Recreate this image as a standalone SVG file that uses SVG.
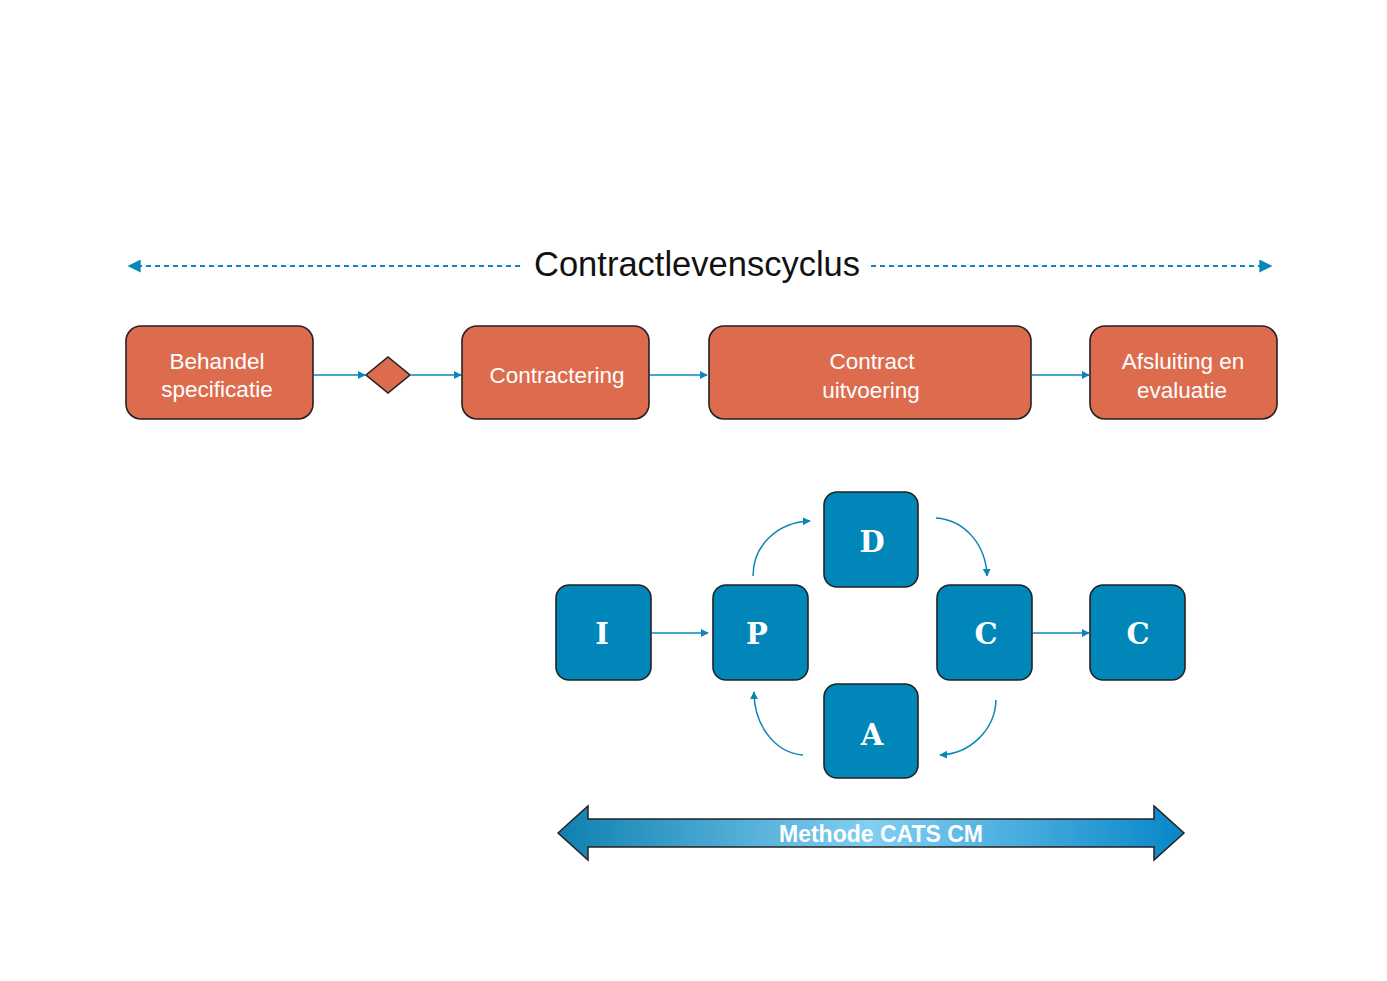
<svg xmlns="http://www.w3.org/2000/svg" width="1387" height="981" viewBox="0 0 1387 981">
<defs>
<style>
.ob{fill:#dd6c4e;stroke:#222;stroke-width:1.6}
.bb{fill:#0086b8;stroke:#222;stroke-width:1.6}
.ot{font-family:"Liberation Sans",Arial,sans-serif;font-size:22.5px;fill:#fff;text-anchor:middle}
.bt{font-family:"DejaVu Serif","Liberation Serif",serif;font-size:29px;font-weight:bold;fill:#fff;text-anchor:middle}
.cn{fill:none;stroke:#0a86b8;stroke-width:1.5}
.ds{fill:none;stroke:#0a86b8;stroke-width:2;stroke-dasharray:5 4}
</style>
<marker id="ah" viewBox="0 0 10 10" refX="9" refY="5" markerWidth="8" markerHeight="8" orient="auto" markerUnits="userSpaceOnUse"><path d="M0,0 L10,5 L0,10 z" fill="#0a86b8"/></marker>
<marker id="ahb" viewBox="0 0 10 10" refX="9" refY="5" markerWidth="13" markerHeight="13" orient="auto-start-reverse" markerUnits="userSpaceOnUse"><path d="M0,0 L10,5 L0,10 z" fill="#0a86b8"/></marker>
<linearGradient id="g" x1="0" y1="0" x2="1" y2="0">
<stop offset="0" stop-color="#0f80b0"/>
<stop offset="0.5" stop-color="#82cff2"/>
<stop offset="1" stop-color="#0786c8"/>
</linearGradient>
</defs>
<rect width="1387" height="981" fill="#fff"/>
<g id="title">
<text x="697" y="276" font-family="Liberation Sans,Arial,sans-serif" font-size="34.5" fill="#111" text-anchor="middle">Contractlevenscyclus</text>
</g>
<g id="connectors">
<line class="ds" x1="520" y1="266" x2="129" y2="266" marker-end="url(#ahb)"/>
<line class="ds" x1="871" y1="266" x2="1271" y2="266" marker-end="url(#ahb)"/>
<line class="cn" x1="314" y1="375" x2="365" y2="375" marker-end="url(#ah)"/>
<line class="cn" x1="411" y1="375" x2="461" y2="375" marker-end="url(#ah)"/>
<line class="cn" x1="650" y1="375" x2="707" y2="375" marker-end="url(#ah)"/>
<line class="cn" x1="1032" y1="375" x2="1089" y2="375" marker-end="url(#ah)"/>
<line class="cn" x1="652" y1="633" x2="708" y2="633" marker-end="url(#ah)"/>
<line class="cn" x1="1033" y1="633" x2="1089" y2="633" marker-end="url(#ah)"/>
<path class="cn" d="M753,576 C753,545 778,522 810,521" marker-end="url(#ah)"/>
<path class="cn" d="M936,518 C965,520 986,545 987,576" marker-end="url(#ah)"/>
<path class="cn" d="M996,700 C995,730 970,754 940,755" marker-end="url(#ah)"/>
<path class="cn" d="M803,755 C775,753 754,725 754,692" marker-end="url(#ah)"/>
</g>
<g id="n-behandel"><rect class="ob" x="126" y="326" width="187" height="93" rx="15"/><text class="ot" x="217" y="369">Behandel</text><text class="ot" x="217" y="397">specificatie</text></g>
<g id="n-decision"><path class="ob" d="M366,375 L388,357 L410,375 L388,393 z"/></g>
<g id="n-contractering"><rect class="ob" x="462" y="326" width="187" height="93" rx="15"/><text class="ot" x="557" y="383">Contractering</text></g>
<g id="n-uitvoering"><rect class="ob" x="709" y="326" width="322" height="93" rx="15"/><text class="ot" x="872" y="369">Contract</text><text class="ot" x="871" y="398">uitvoering</text></g>
<g id="n-afsluiting"><rect class="ob" x="1090" y="326" width="187" height="93" rx="15"/><text class="ot" x="1183" y="369">Afsluiting en</text><text class="ot" x="1182" y="398">evaluatie</text></g>
<g id="n-I"><rect class="bb" x="556" y="585" width="95" height="95" rx="13"/><text class="bt" x="602" y="644">I</text></g>
<g id="n-P"><rect class="bb" x="713" y="585" width="95" height="95" rx="13"/><text class="bt" x="757" y="644">P</text></g>
<g id="n-D"><rect class="bb" x="824" y="492" width="94" height="95" rx="13"/><text class="bt" x="872" y="552">D</text></g>
<g id="n-C1"><rect class="bb" x="937" y="585" width="95" height="95" rx="13"/><text class="bt" x="986" y="644">C</text></g>
<g id="n-C2"><rect class="bb" x="1090" y="585" width="95" height="95" rx="13"/><text class="bt" x="1138" y="644">C</text></g>
<g id="n-A"><rect class="bb" x="824" y="684" width="94" height="94" rx="13"/><text class="bt" x="872" y="745">A</text></g>
<g id="methode">
<path d="M558,833 L588,806 L588,819 L1154,819 L1154,806 L1184,833 L1154,860 L1154,847 L588,847 L588,860 z" fill="url(#g)" stroke="#222" stroke-width="1.5"/>
<text x="881" y="842" font-family="Liberation Sans,Arial,sans-serif" font-size="23" font-weight="bold" fill="#fff" text-anchor="middle">Methode CATS CM</text>
</g>
</svg>
